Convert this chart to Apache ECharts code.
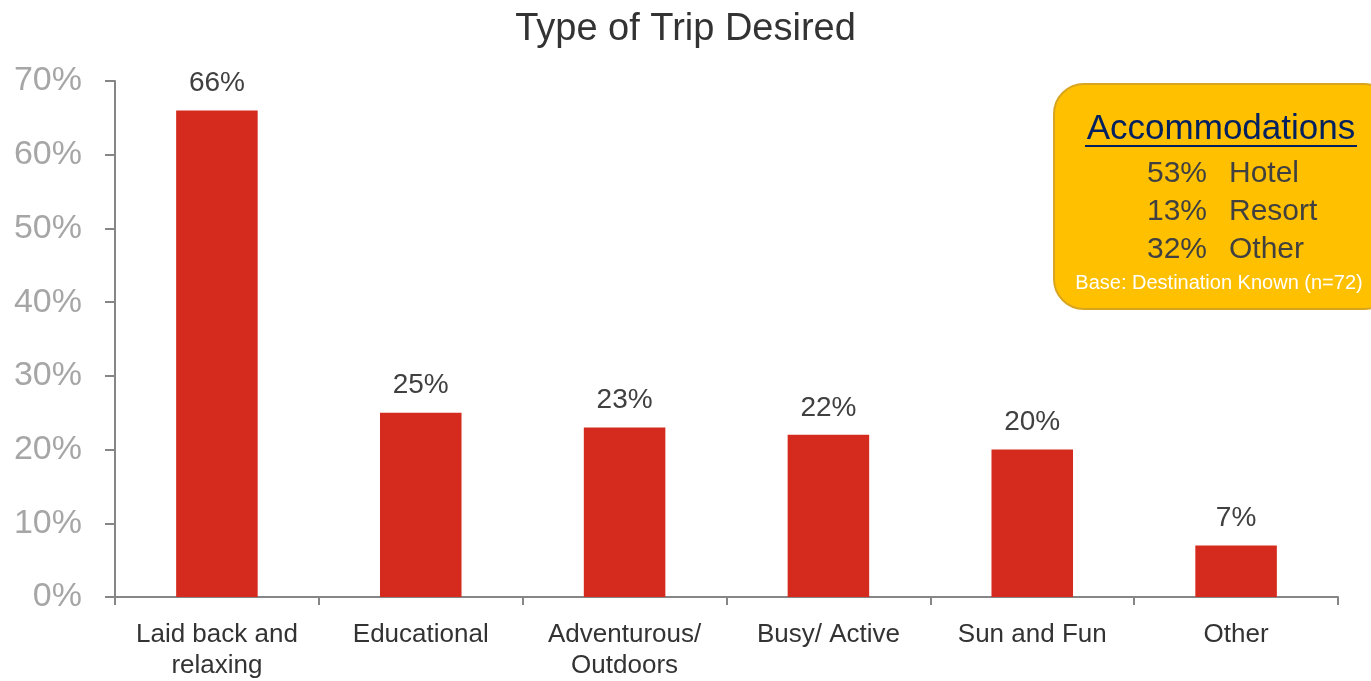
<!DOCTYPE html>
<html>
<head>
<meta charset="utf-8">
<script src="https://cdn.jsdelivr.net/npm/echarts@6/dist/echarts.min.js"></script>
<style>
  html, body { margin: 0; padding: 0; background: #fff; }
  #chart { width: 1371px; height: 681px; }
</style>
</head>
<body>
<div id="chart"></div>
<script>
var categories = ['Laid back and\nrelaxing', 'Educational', 'Adventurous/\nOutdoors', 'Busy/ Active', 'Sun and Fun', 'Other'];
var tripShare = [66, 25, 23, 22, 20, 7];

var accomPct = [53, 13, 32];
var accomType = ['Hotel', 'Resort', 'Other'];
var accomBase = 'Base: Destination Known (n=72)';

var font = 'Liberation Sans';
var chart = echarts.init(document.getElementById('chart'));

// annotation box, top right
var box = [
    {
        type: 'rect',
        left: 1053, top: 83,
        shape: { width: 340, height: 225, r: 30 },
        style: { fill: '#FFC000', stroke: '#D9A520', lineWidth: 2 },
        z: 10
    },
    {
        type: 'text',
        x: 1221, y: 129,
        style: { text: 'Accommodations', fill: '#002060', font: '35px ' + font, align: 'center', verticalAlign: 'middle' },
        z: 11
    },
    {
        type: 'line',
        shape: { x1: 1085, y1: 146, x2: 1357, y2: 146 },
        style: { stroke: '#002060', lineWidth: 2 },
        z: 11
    },
    {
        type: 'text',
        x: 1219, y: 283,
        style: { text: accomBase, fill: '#ffffff', font: '20px ' + font, align: 'center', verticalAlign: 'middle' },
        z: 11
    }
];
accomPct.forEach(function (p, i) {
    box.push({
        type: 'text', x: 1207, y: 174 + i * 38,
        style: { text: p + '%', fill: '#404040', font: '500 30px ' + font, align: 'right', verticalAlign: 'middle' },
        z: 11
    });
    box.push({
        type: 'text', x: 1229, y: 174 + i * 38,
        style: { text: accomType[i], fill: '#404040', font: '500 30px ' + font, align: 'left', verticalAlign: 'middle' },
        z: 11
    });
});

chart.setOption({
    animation: false,
    title: {
        text: 'Type of Trip Desired',
        left: 'center',
        top: 6,
        textStyle: { fontFamily: font, fontSize: 38, fontWeight: 'normal', color: '#333333' }
    },
    grid: { left: 115, right: 33, top: 81, bottom: 81, containLabel: false },
    xAxis: {
        type: 'category',
        data: categories,
        axisLine: { lineStyle: { color: '#868686', width: 2 } },
        axisTick: { show: true, length: 8, lineStyle: { color: '#868686', width: 2 } },
        axisLabel: { color: '#333333', fontFamily: font, fontSize: 26, margin: 22, lineHeight: 31, interval: 0 }
    },
    yAxis: {
        type: 'value',
        min: 0, max: 70, interval: 10,
        axisLine: { show: true, lineStyle: { color: '#868686', width: 2 } },
        axisTick: { show: true, length: 10, lineStyle: { color: '#868686', width: 2 } },
        splitLine: { show: false },
        axisLabel: { formatter: '{value}%', color: '#A6A6A6', fontFamily: font, fontSize: 34, margin: 33 }
    },
    series: [{
        type: 'bar',
        data: tripShare,
        barWidth: '40%',
        itemStyle: { color: '#D52B1E' },
        label: {
            show: true, position: 'top', distance: 13,
            formatter: '{c}%',
            color: '#404040', fontFamily: font, fontSize: 28
        }
    }],
    graphic: box
});
</script>
</body>
</html>
